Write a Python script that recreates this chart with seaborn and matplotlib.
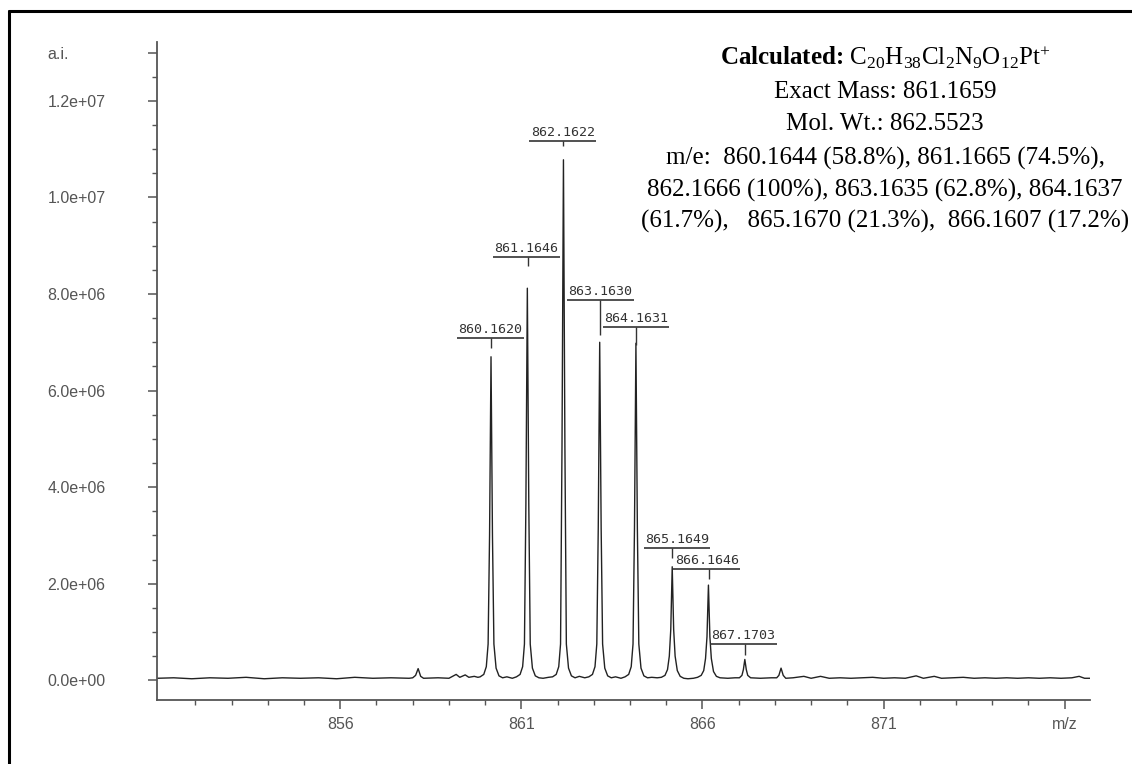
import matplotlib
matplotlib.use("Agg")
import matplotlib.pyplot as plt
from matplotlib.lines import Line2D
from matplotlib.ticker import FixedLocator, MultipleLocator
import seaborn as sns
import pandas as pd

# --- spectrum profile (m/z, intensity in 1e6 counts) ---
mz = [
    850.95, 851.4, 851.9, 852.4, 852.9, 853.4, 853.9, 854.4, 854.9, 855.4,
    855.9, 856.4, 856.9, 857.4, 857.9,
    858.0, 858.08, 858.15, 858.22, 858.3,
    858.7, 859.0, 859.2, 859.3, 859.45, 859.55, 859.7, 859.8,
    # 860.16
    859.862, 859.962, 860.032, 860.082, 860.122, 860.162, 860.202, 860.242, 860.302, 860.382, 860.482,
    860.6, 860.75,
    # 861.16
    860.865, 860.965, 861.035, 861.085, 861.125, 861.165, 861.205, 861.245, 861.305, 861.385, 861.485,
    861.6, 861.75,
    # 862.16
    861.862, 861.962, 862.032, 862.082, 862.122, 862.162, 862.202, 862.242, 862.302, 862.382, 862.482,
    862.6, 862.75,
    # 863.16
    862.863, 862.963, 863.033, 863.083, 863.123, 863.163, 863.203, 863.243, 863.303, 863.383, 863.483,
    863.6, 863.75,
    # 864.16
    863.863, 863.963, 864.033, 864.083, 864.123, 864.163, 864.203, 864.243, 864.303, 864.383, 864.483,
    864.6, 864.75,
    # 865.16
    864.865, 864.965, 865.035, 865.085, 865.125, 865.165, 865.205, 865.245, 865.305, 865.385, 865.485,
    865.6, 865.75,
    # 866.16
    865.865, 865.965, 866.035, 866.085, 866.125, 866.165, 866.205, 866.245, 866.305, 866.385, 866.485,
    866.7, 866.9,
    # 867.17
    867.02, 867.09, 867.13, 867.17, 867.21, 867.25, 867.33,
    867.6, 867.9,
    # 868.17
    868.05, 868.11, 868.17, 868.23, 868.3,
    868.5, 868.8, 869.0, 869.26, 869.5, 869.8, 870.1, 870.4, 870.7, 871.0,
    871.3, 871.6, 871.9, 872.1, 872.4, 872.6, 872.9, 873.2, 873.5, 873.8,
    874.1, 874.4, 874.7, 875.0, 875.3, 875.6, 875.9, 876.2, 876.4, 876.55, 876.7,
]
intensity = [
    0.04, 0.05, 0.03, 0.05, 0.04, 0.06, 0.03, 0.05, 0.04, 0.05,
    0.03, 0.06, 0.04, 0.05, 0.04,
    0.05, 0.10, 0.24, 0.08, 0.04,
    0.05, 0.04, 0.12, 0.06, 0.11, 0.06, 0.08, 0.06,
    0.07, 0.12, 0.28, 0.75, 3.00, 6.70, 3.00, 0.75, 0.25, 0.09, 0.05,
    0.07, 0.04,
    0.07, 0.12, 0.28, 0.75, 3.65, 8.12, 3.65, 0.75, 0.25, 0.09, 0.05,
    0.04, 0.06,
    0.07, 0.12, 0.28, 0.75, 4.85, 10.78, 4.85, 0.75, 0.25, 0.09, 0.05,
    0.08, 0.05,
    0.07, 0.12, 0.28, 0.75, 3.15, 7.00, 3.15, 0.75, 0.25, 0.09, 0.05,
    0.07, 0.04,
    0.07, 0.12, 0.28, 0.75, 3.14, 6.98, 3.14, 0.75, 0.25, 0.09, 0.05,
    0.06, 0.05,
    0.06, 0.10, 0.22, 0.50, 1.05, 2.35, 1.05, 0.50, 0.20, 0.08, 0.04,
    0.03, 0.04,
    0.06, 0.10, 0.20, 0.45, 0.90, 1.97, 0.90, 0.45, 0.18, 0.08, 0.05,
    0.04, 0.05,
    0.05, 0.10, 0.22, 0.43, 0.22, 0.10, 0.05,
    0.04, 0.05,
    0.05, 0.10, 0.25, 0.10, 0.04,
    0.05, 0.08, 0.04, 0.08, 0.04, 0.05, 0.04, 0.05, 0.06, 0.04,
    0.05, 0.04, 0.09, 0.04, 0.08, 0.04, 0.05, 0.06, 0.04, 0.05,
    0.04, 0.05, 0.04, 0.05, 0.04, 0.05, 0.04, 0.05, 0.08, 0.04, 0.04,
]

# --- peak labels ---
peak_labels = ["860.1620", "861.1646", "862.1622", "863.1630",
               "864.1631", "865.1649", "866.1646", "867.1703"]
label_x = [860.14, 861.14, 862.14, 863.18, 864.17, 865.30, 866.12, 867.13]
label_y = [7.09, 8.77, 11.17, 7.88, 7.32, 2.74, 2.30, 0.75]
stem_x = [860.17, 861.17, 862.16, 863.17, 864.17, 865.17, 866.17, 867.17]
stem_bottom = [6.88, 8.58, 11.07, 7.15, 6.94, 2.53, 2.09, 0.52]

x_major = [856, 861, 866, 871, 876]
x_major_labels = ["856", "861", "866", "871", "m/z"]
y_major = [0, 2, 4, 6, 8, 10, 12, 13]
y_major_labels = ["0.0e+00", "2.0e+06", "4.0e+06", "6.0e+06",
                  "8.0e+06", "1.0e+07", "1.2e+07", "a.i."]

info_lines = [
    r"Calculated: $\mathrm{C_{20}H_{38}Cl_{2}N_{9}O_{12}Pt^{+}}$",
    "Exact Mass: 861.1659",
    "Mol. Wt.: 862.5523",
    "m/e:  860.1644 (58.8%), 861.1665 (74.5%),",
    "862.1666 (100%), 863.1635 (62.8%), 864.1637",
    "(61.7%),   865.1670 (21.3%),  866.1607 (17.2%)",
]
info_weights = ["bold", "normal", "normal", "normal", "normal", "normal"]
info_baseline_px = [65, 98, 130, 165, 197, 228]

sns.set_style("ticks")
plt.rcParams["font.family"] = ["Liberation Sans", "DejaVu Sans"]
plt.rcParams["mathtext.fontset"] = "custom"
plt.rcParams["mathtext.rm"] = "Liberation Serif"
plt.rcParams["mathtext.it"] = "Liberation Serif:italic"
plt.rcParams["mathtext.bf"] = "Liberation Serif:bold"

W, H = 1132, 764
fig = plt.figure(figsize=(W / 100, H / 100), dpi=100)
fig.patch.set_facecolor("white")
ax = fig.add_axes([157 / W, 1 - 700 / H, (1090 - 157) / W, (700 - 42) / H])

df = pd.DataFrame({"mz": mz, "intensity": intensity})
sns.lineplot(data=df, x="mz", y="intensity", ax=ax, color="#222222",
             linewidth=1.0, estimator=None, sort=False)

ax.set_xlim(850.94, 876.7)
ax.set_ylim(-0.41, 13.22)

axis_col = "#555555"
for side in ["top", "right"]:
    ax.spines[side].set_visible(False)
for side in ["left", "bottom"]:
    ax.spines[side].set_color(axis_col)
    ax.spines[side].set_linewidth(1.3)

ax.set_xticks(x_major, x_major_labels)
ax.xaxis.set_minor_locator(FixedLocator([v for v in range(852, 877) if v not in x_major]))
ax.set_yticks(y_major, y_major_labels)
ax.yaxis.set_minor_locator(MultipleLocator(0.5))

ax.tick_params(axis="both", which="major", length=6.5, width=1.1, color=axis_col,
               labelsize=11.5, labelcolor="#555555", direction="out")
ax.tick_params(axis="both", which="minor", length=3.6, width=1.0, color=axis_col,
               direction="out")
ax.tick_params(axis="x", which="major", pad=5.5)
ax.tick_params(axis="y", which="major", pad=72.5)
for lbl in ax.get_yticklabels():
    lbl.set_horizontalalignment("left")

ax.set_xlabel("")
ax.set_ylabel("")

# peak labels: text, underline, stem
for txt, lx, ly, sx, sb in zip(peak_labels, label_x, label_y, stem_x, stem_bottom):
    ax.annotate(txt, xy=(lx, ly), xytext=(0, 1.5), textcoords="offset points",
                ha="center", va="bottom", fontsize=9.6, color="#333333",
                family="DejaVu Sans Mono")
    ax.hlines(ly, lx - 0.92, lx + 0.92, color="#333333", linewidth=1.2)
    ax.vlines(sx, sb, ly, color="#333333", linewidth=1.0)

# calculated info block
for line, wt, py in zip(info_lines, info_weights, info_baseline_px):
    fig.text(885 / W, 1 - py / H, line, ha="center", va="baseline",
             fontsize=18, family="Liberation Serif", fontweight=wt, color="black")

# outer frame (top and left edges visible)
fig.add_artist(Line2D([9 / W, 1.0], [1 - 11 / H, 1 - 11 / H], color="black",
                      linewidth=2.2, transform=fig.transFigure))
fig.add_artist(Line2D([9 / W, 9 / W], [0, 1 - 11 / H], color="black",
                      linewidth=2.2, transform=fig.transFigure))

fig.savefig("out.png", dpi=100, facecolor="white")
plt.close(fig)
